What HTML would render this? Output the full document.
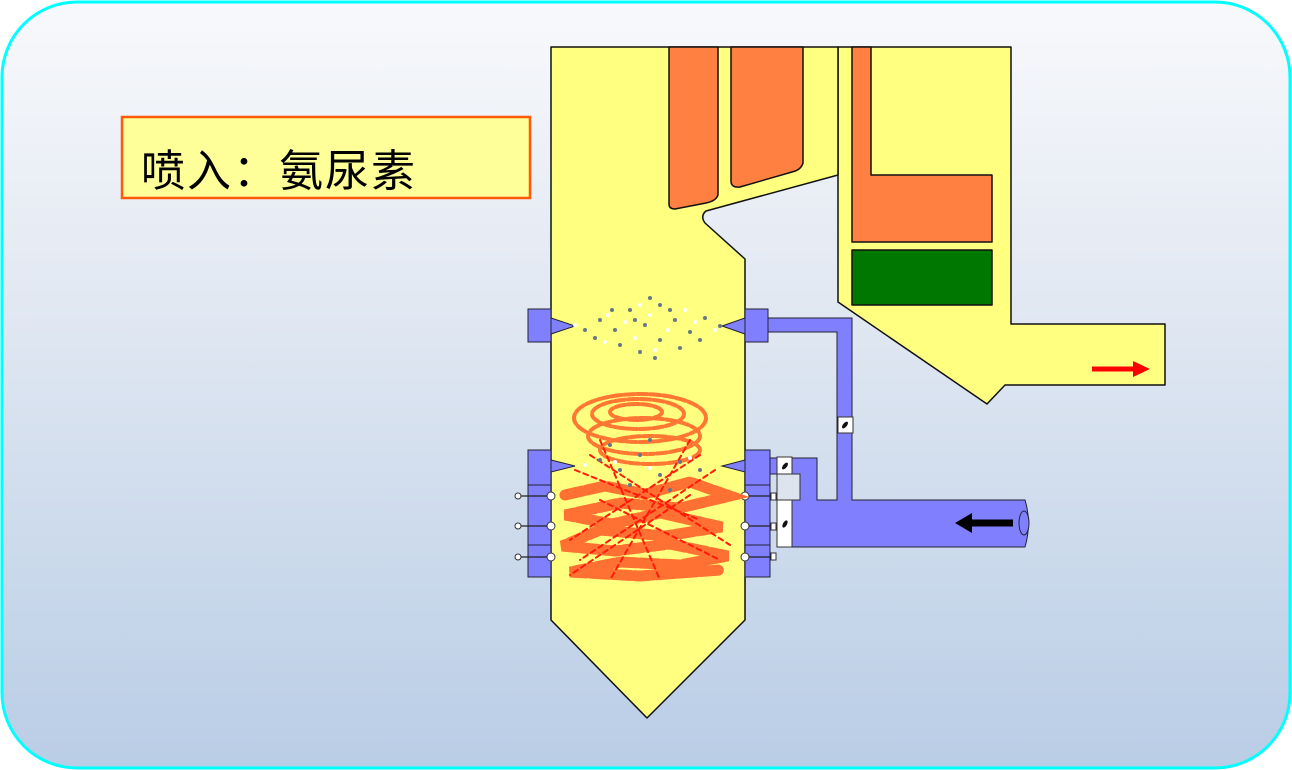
<!DOCTYPE html>
<html><head><meta charset="utf-8"><style>
html,body{margin:0;padding:0;width:1292px;height:770px;overflow:hidden;background:#fff}
</style></head><body>
<svg width="1292" height="770" viewBox="0 0 1292 770" xmlns="http://www.w3.org/2000/svg">
<defs>
<linearGradient id="bg" x1="0" y1="0" x2="0" y2="1">
<stop offset="0" stop-color="#f8f9fc"/><stop offset="0.35" stop-color="#e4eaf3"/><stop offset="1" stop-color="#b9cde6"/>
</linearGradient>
</defs>
<rect x="2" y="2" width="1288" height="766" rx="75" fill="url(#bg)" stroke="#00ffff" stroke-width="3"/>
<rect x="122" y="117" width="408" height="81" fill="#ffff99" stroke="#ff5a0a" stroke-width="2.5"/>
<text x="141" y="186" font-family="Liberation Sans, Noto Sans CJK SC, sans-serif" font-size="44" letter-spacing="2" fill="#000">喷入：氨尿素</text>

<g stroke="#111" stroke-width="1.5" stroke-linejoin="round">
<path d="M838 47 L1011 47 L1011 324 L1165 324 L1165 385 L1005 385 L987 404 L838 302 Z" fill="#ffff80"/>
<path d="M551 47 L838 47 L838 175 L706 211 Q700 216 705 223 L745 259 L745 620 L647 718 L551 620 Z" fill="#ffff80"/>
<path d="M669 47 L718 47 L718 195 Q716 201 706 203 L675 209 Q669 209 669 204 Z" fill="#ff8040"/>
<path d="M731 47 L803 47 L803 163 Q801 170 792 172 L740 187 Q731 188 731 181 Z" fill="#ff8040"/>
<path d="M852 47 L871 47 L871 175 L992 175 L992 242 L852 242 Z" fill="#ff8040"/>
<rect x="852" y="250" width="140" height="55" fill="#007800"/>
</g>
<line x1="1092" y1="369" x2="1136" y2="369" stroke="#ff0000" stroke-width="5"/>
<polygon points="1133,361 1150,369 1133,377" fill="#ff0000"/>

<!-- blue pipes -->
<g fill="#8080ff" stroke="#223" stroke-width="1">
<path d="M768 318 L852 318 L852 500 L1025 500 Q1032 523 1025 547 L792 547 L792 500 L800 500 L800 474 L770 474 L770 458 L817 458 L817 500 L837 500 L837 332 L768 332 Z"/>
<ellipse cx="1024" cy="523" rx="5" ry="12" fill="#8080ff"/>
<rect x="528" y="309" width="23" height="33"/>
<rect x="745" y="309" width="23" height="33"/>
<rect x="528" y="450" width="23" height="127"/>
<rect x="745" y="450" width="25" height="127"/>
<path d="M551 318 L575 326 L551 334 Z"/>
<path d="M745 318 L722 326 L745 334 Z"/>
<path d="M551 460 L575 466 L551 472 Z"/>
<path d="M745 460 L722 466 L745 472 Z"/>
<line x1="528" y1="485" x2="551" y2="485"/><line x1="528" y1="545" x2="551" y2="545"/>
<line x1="745" y1="485" x2="770" y2="485"/><line x1="745" y1="545" x2="770" y2="545"/>
</g>
<g fill="#fff" stroke="#333" stroke-width="1">
<rect x="777" y="457" width="15" height="17"/>
<rect x="777" y="474" width="23" height="26" fill="#dde4ee"/>
<rect x="777" y="500" width="15" height="47"/>
<rect x="838" y="417" width="15" height="16"/>
<circle cx="551" cy="496" r="4"/><circle cx="551" cy="526" r="4"/><circle cx="551" cy="557" r="4"/>
<circle cx="745" cy="496" r="4"/><circle cx="745" cy="526" r="4"/><circle cx="745" cy="557" r="4"/>
<circle cx="518" cy="496" r="3"/><circle cx="518" cy="526" r="3"/><circle cx="518" cy="557" r="3"/>
<rect x="771" y="493" width="5" height="7"/><rect x="771" y="523" width="5" height="7"/><rect x="771" y="553" width="5" height="7"/>
</g>
<g stroke="#222" stroke-width="1.2">
<line x1="521" y1="496" x2="547" y2="496"/><line x1="521" y1="526" x2="547" y2="526"/><line x1="521" y1="557" x2="547" y2="557"/>
<line x1="749" y1="496" x2="771" y2="496"/><line x1="749" y1="526" x2="771" y2="526"/><line x1="749" y1="557" x2="771" y2="557"/>
</g>
<g fill="#111"><ellipse cx="845" cy="425" rx="2" ry="4" transform="rotate(40 845 425)"/>
<ellipse cx="785" cy="466" rx="2" ry="4" transform="rotate(40 785 466)"/>
<ellipse cx="785" cy="524" rx="2" ry="4" transform="rotate(30 785 524)"/></g>
<line x1="968" y1="523" x2="1013" y2="523" stroke="#000" stroke-width="7"/>
<polygon points="972,513 955,523 972,533" fill="#000"/>

<!-- flames -->
<g fill="none" stroke-linecap="round">
<g stroke="#ff7733" stroke-width="4" stroke-dasharray="10 3">
<ellipse cx="640" cy="418" rx="66" ry="24"/>
<ellipse cx="638" cy="414" rx="46" ry="15"/>
<ellipse cx="636" cy="412" rx="26" ry="8"/>
<ellipse cx="644" cy="436" rx="56" ry="18"/>
<ellipse cx="650" cy="450" rx="50" ry="14"/>
</g>
<g stroke="#ff7033" stroke-width="11" stroke-dasharray="18 4">
<path d="M565 495 L605 486 L645 494 L690 482 L730 496 L680 508 L620 503 L565 515 L612 524 L660 513 L722 527 L665 536 L600 530 L562 546 L615 551 L670 544 L728 556 L680 565 L620 562 L570 572 L640 576 L720 570"/>
</g>
<g stroke="#ff1a0a" stroke-width="2" stroke-dasharray="5 4">
<path d="M575 470 L700 520 M590 455 L730 545 M700 455 L570 540 M715 470 L580 560 M600 500 L720 560 M690 495 L570 575 M600 440 L660 580 M690 440 L610 580"/>
</g>
</g>
<g fill="#667788">
<circle cx="600" cy="320" r="2"/><circle cx="615" cy="330" r="2"/><circle cx="630" cy="310" r="2"/><circle cx="645" cy="325" r="2"/><circle cx="660" cy="305" r="2"/><circle cx="675" cy="320" r="2"/><circle cx="690" cy="332" r="2"/><circle cx="705" cy="318" r="2"/><circle cx="620" cy="345" r="2"/><circle cx="640" cy="352" r="2"/><circle cx="660" cy="340" r="2"/><circle cx="680" cy="348" r="2"/><circle cx="585" cy="330" r="2"/><circle cx="720" cy="326" r="2"/><circle cx="650" cy="298" r="2"/><circle cx="595" cy="338" r="2"/><circle cx="635" cy="320" r="2"/><circle cx="670" cy="310" r="2"/><circle cx="700" cy="340" r="2"/><circle cx="612" cy="310" r="2"/><circle cx="655" cy="358" r="2"/>
<circle cx="600" cy="460" r="2"/><circle cx="620" cy="470" r="2"/><circle cx="640" cy="455" r="2"/><circle cx="660" cy="475" r="2"/><circle cx="680" cy="462" r="2"/><circle cx="700" cy="470" r="2"/><circle cx="630" cy="485" r="2"/><circle cx="670" cy="490" r="2"/><circle cx="650" cy="440" r="2"/><circle cx="610" cy="445" r="2"/>
</g>
<g fill="#fff">
<circle cx="608" cy="315" r="2"/><circle cx="625" cy="322" r="2"/><circle cx="650" cy="315" r="2"/><circle cx="668" cy="330" r="2"/><circle cx="695" cy="322" r="2"/><circle cx="635" cy="338" r="2"/><circle cx="655" cy="350" r="2"/><circle cx="575" cy="325" r="2"/><circle cx="715" cy="330" r="2"/><circle cx="640" cy="305" r="2"/><circle cx="685" cy="310" r="2"/><circle cx="605" cy="342" r="2"/>
<circle cx="615" cy="462" r="2"/><circle cx="650" cy="468" r="2"/><circle cx="690" cy="458" r="2"/><circle cx="585" cy="465" r="2"/>
</g>
</svg>
</body></html>
